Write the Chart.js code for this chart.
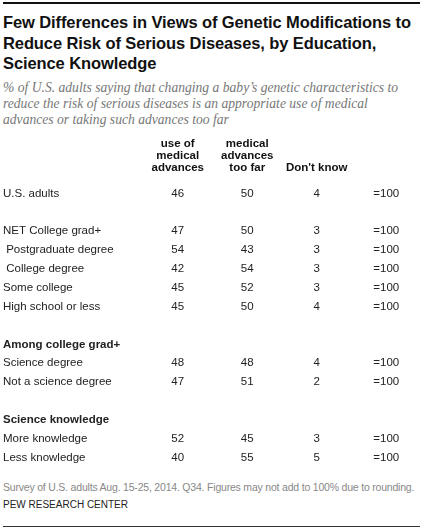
<!DOCTYPE html>
<html><head><meta charset="utf-8">
<script src="https://cdn.jsdelivr.net/npm/chart.js@4"></script>
<style>
body{margin:0;width:423px;height:532px;position:relative;background:#fff;font-family:"Liberation Sans",Arial,sans-serif;overflow:hidden}
#topline{position:absolute;left:3px;right:3px;top:2px;height:2px;background:#111}
#title{position:absolute;left:3px;top:12px;width:420px;font-weight:bold;font-size:16.5px;line-height:20.5px;color:#111;letter-spacing:-0.1px}
#sub{position:absolute;left:3px;top:80px;width:418px;font-family:"Liberation Serif",Georgia,serif;font-style:italic;font-size:13.6px;line-height:16px;color:#777;letter-spacing:0}
#wrap{position:absolute;left:0;top:138px;width:423px;height:336px}
#note{position:absolute;left:3px;top:481px;font-size:10.5px;color:#888;letter-spacing:-0.2px}
#src{position:absolute;left:3px;top:499px;font-size:10px;color:#222}
#botline{position:absolute;left:3px;right:3px;top:526px;height:1px;background:#333}
</style></head><body>
<div id="topline"></div>
<div id="title">Few Differences in Views of Genetic Modifications to Reduce Risk of Serious Diseases, by Education, Science Knowledge</div>
<div id="sub">% of U.S. adults saying that changing a baby’s genetic characteristics to reduce the risk of serious diseases is an appropriate use of medical advances or taking such advances too far</div>
<div id="wrap"><canvas id="c"></canvas></div>
<div id="note">Survey of U.S. adults Aug. 15-25, 2014. Q34. Figures may not add to 100% due to rounding.</div>
<div id="src">PEW RESEARCH CENTER</div>
<div id="botline"></div>
<script>
const rows = ['U.S. adults','','NET College grad+',' Postgraduate degree',' College degree','Some college','High school or less','','Among college grad+','Science degree','Not a science degree','','Science knowledge','More knowledge','Less knowledge'];
const headings = ['Among college grad+','Science knowledge'];
const columns = [['Appropriate','use of','medical','advances'],['Taking','medical','advances','too far'],"Don't know",''];
const appropriate = [46,null,47,54,42,45,45,null,null,48,47,null,null,52,40];
const tooFar      = [50,null,50,43,54,52,50,null,null,48,51,null,null,45,55];
const dontKnow    = [4,null,3,3,3,3,4,null,null,4,2,null,null,3,5];
const total       = ['=100',null,'=100','=100','=100','=100','=100',null,null,'=100','=100',null,null,'=100','=100'];
const series = [appropriate,tooFar,dontKnow,total];
const datasets = series.map((vals,ci)=>({
  data: vals.map((v,ri)=>v===null?null:{x:ci,y:ri,t:String(v)}).filter(d=>d),
  pointRadius:0, showLine:false
}));
const textPlugin = {id:'txt', afterDatasetsDraw(chart){
  const ctx=chart.ctx; ctx.save();
  ctx.font='11.5px "Liberation Sans", Arial, sans-serif'; ctx.fillStyle='#222';
  ctx.textAlign='center'; ctx.textBaseline='middle';
  chart.data.datasets.forEach((ds,i)=>{
    chart.getDatasetMeta(i).data.forEach((p,j)=>{ ctx.fillText(ds.data[j].t, p.x, p.y); });
  });
  ctx.restore();
}};
const intTicks = n => s => { s.ticks = Array.from({length:n},(_,i)=>({value:i})); };
new Chart(document.getElementById('c'),{
  type:'scatter',
  data:{datasets},
  plugins:[textPlugin],
  options:{responsive:true,maintainAspectRatio:false,animation:false,
    layout:{padding:{left:3,right:2,top:0,bottom:2}},
    plugins:{legend:{display:false},tooltip:{enabled:false}},
    scales:{
      x:{type:'linear',min:-0.5,max:3.5,position:'top',
        grid:{display:false},border:{display:false},
        afterBuildTicks:intTicks(columns.length),
        afterFit(s){s.height=46;},
        ticks:{padding:2,color:'#111',maxRotation:0,autoSkip:false,
          callback:(v)=>columns[v],
          font:{family:'"Liberation Sans", Arial, sans-serif',size:11.5,weight:'bold',lineHeight:1.05}}},
      y:{type:'linear',min:-0.5,max:rows.length-0.5,reverse:true,
        grid:{display:false},border:{display:false},
        afterBuildTicks:intTicks(rows.length),
        afterFit(s){s.width=140;},
        ticks:{crossAlign:'far',color:'#222',autoSkip:false,padding:0,
          callback:(v)=>rows[v],
          font:(c)=>({family:'"Liberation Sans", Arial, sans-serif',size:11.5,
            weight: headings.includes(rows[c.index])?'bold':'normal'})}}
    }}
});
</script>
</body></html>
